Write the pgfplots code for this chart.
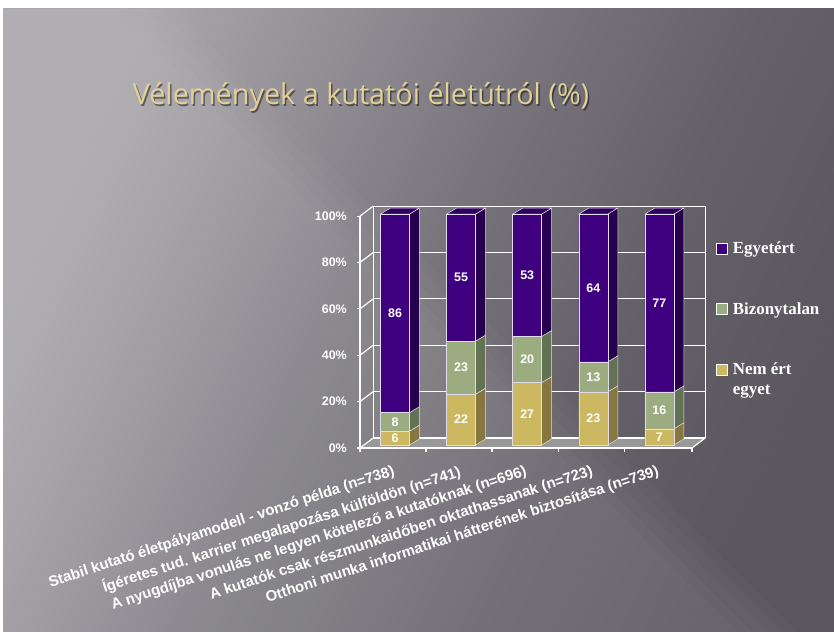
\documentclass[border=0pt]{standalone}
\usepackage{fontspec}
\usepackage{pgfplots}
\usepackage{pgfplotstable}
\pgfplotsset{compat=1.18}
\newfontfamily\arial{Liberation Sans}
\newfontfamily\serifL{Liberation Serif}
\newfontfamily\titlefont{Open Sans}
\definecolor{purpleF}{RGB}{62,0,126}
\definecolor{purpleS}{RGB}{38,0,78}
\definecolor{purpleT}{RGB}{48,0,96}
\definecolor{greenF}{RGB}{155,173,128}
\definecolor{greenS}{RGB}{100,114,84}
\definecolor{goldF}{RGB}{205,184,98}
\definecolor{goldS}{RGB}{134,119,62}
\definecolor{edgec}{RGB}{225,220,235}
\definecolor{floorc}{RGB}{152,152,152}
\definecolor{titlegold}{RGB}{226,208,150}
\definecolor{bg0}{RGB}{170,167,173}
\definecolor{bg1}{RGB}{146,143,149}
\definecolor{bg2}{RGB}{118,116,122}
\definecolor{bg3}{RGB}{100,98,104}
\definecolor{bg4}{RGB}{90,88,94}
\pgfdeclarehorizontalshading{bgshade}{100bp}{color(0bp)=(bg0); color(25bp)=(bg0); color(37bp)=(bg1); color(50bp)=(bg2); color(62bp)=(bg3); color(75bp)=(bg4); color(100bp)=(bg4)}
\pgfplotstableread{
x nem biz egy
0 6 8 86
1 22 23 55
2 27 20 53
3 23 13 64
4 7 16 77
}\data
\newcommand\xlab{\arial\bfseries\fontsize{15}{16}\selectfont}
\newcommand\ylab{\arial\bfseries\fontsize{12.5}{14}\selectfont}
\newcommand\dlab{\arial\bfseries\fontsize{12.5}{14}\selectfont}
\newcommand\legfont{\serifL\bfseries\fontsize{17}{20}\selectfont}
\pgfplotsset{vlabel/.style={draw=none, forget plot, nodes near coords, point meta=explicit,
  /pgf/number format/assume math mode=true,
  nodes near coords align=center,
  every node near coord/.append style={font=\dlab, text=white, anchor=center}}}
\begin{document}
\begin{tikzpicture}[x=1bp,y=1bp]
\useasboundingbox (0,0) rectangle (834,632);
\fill[white] (0,0) rectangle (834,632);
\shade[shading=bgshade, shading angle=-25] (3,0) rectangle (834,623);
\foreach \k in {0,...,4}{
  \fill[white, fill opacity=0.024] (3,623) -- ({174-15*\k},623) -- ({797-15*\k},0) -- (3,0) -- cycle;
}
\node[anchor=base, text=black, opacity=0.45, inner sep=0pt] at (362.5,525.5) {\titlefont\fontsize{28.9}{32}\selectfont Vélemények a kutatói életútról (\%)};
\node[anchor=base, text=titlegold, inner sep=0pt] at (361,527) {\titlefont\fontsize{28.9}{32}\selectfont Vélemények a kutatói életútról (\%)};
\begin{axis}[
  at={(360bp,184bp)}, anchor=south west,
  scale only axis, width=332bp, height=232bp,
  xmin=-0.530, xmax=4.493, ymin=-1.3, ymax=99.15,
  clip=false,
  axis line style={draw=none},
  major tick length=0pt,
  xtick={0,1,2,3,4},
  xticklabels={{Stabil kutató életpályamodell - vonzó példa (n=738)},{Ígéretes tud. karrier megalapozása külföldön (n=741)},{A nyugdíjba vonulás ne legyen kötelező a kutatóknak (n=696)},{A kutatók csak részmunkaidőben oktathassanak (n=723)},{Otthoni munka informatikai hátterének biztosítása (n=739)}},
  xticklabel style={rotate=18, anchor=east, xshift=-8bp, yshift=-22bp, inner sep=0pt, font=\xlab, text=white},
  ytick={-1.3,18.78,38.86,58.94,79.02,99.1},
  yticklabels={0\%,20\%,40\%,60\%,80\%,100\%},
  yticklabel style={anchor=east, xshift=-13bp, inner sep=0pt, font=\ylab, text=white},
  legend style={at={(axis description cs:1.0723,0.888)}, anchor=north west,
    draw=none, fill=none, inner sep=0pt, outer sep=0pt,
    font=\legfont, text=white, row sep=44.5bp, column sep=5bp,
    cells={anchor=base west},
    nodes={inner sep=0pt, text height=12bp, text depth=4bp}},
]
% floor
\fill[floorc] (-0.530,-1.3) -- (4.493,-1.3) -- (4.693,3.03) -- (-0.330,3.03) -- cycle;
% back wall grid
\pgfplotsinvokeforeach{0,20,...,100}{
  \draw[white, line width=1.2bp] (-0.330,{3.03+#1*1.004}) -- (4.693,{3.03+#1*1.004});
  \draw[white, line width=1.2bp] (-0.530,{-1.3+#1*1.004}) -- (-0.330,{3.03+#1*1.004});
  \draw[white, line width=1.2bp] (-0.575,{-1.3+#1*1.004}) -- (-0.530,{-1.3+#1*1.004});
}
\draw[white, line width=1.2bp] (-0.330,3.03) -- (-0.330,103.43);
\draw[white, line width=1.2bp] (4.693,3.03) -- (4.693,103.43);
\draw[white, line width=1.2bp] (4.493,-1.3) -- (4.693,3.03);
\draw[white, line width=1.2bp] (-0.530,-1.3) -- (-0.530,99.1);
\draw[white, line width=1.2bp] (-0.530,-1.3) -- (4.493,-1.3);
\pgfplotsinvokeforeach{-0.530,0.469,1.467,2.470,3.468,4.493}{
  \draw[white, line width=1.2bp] (#1,-1.3) -- (#1,-3.0);
}
% bar side and top faces
\pgfplotsforeachungrouped \i in {0,...,4}{%
  \pgfplotstablegetelem{\i}{nem}\of\data \let\vn\pgfplotsretval
  \pgfplotstablegetelem{\i}{biz}\of\data \let\vb\pgfplotsretval
  \pgfplotstablegetelem{\i}{egy}\of\data \let\ve\pgfplotsretval
  \pgfmathsetmacro\xl{\i-0.219}
  \pgfmathsetmacro\xr{\i+0.219}
  \pgfmathsetmacro\xrd{\i+0.219+0.151}
  \pgfmathsetmacro\xld{\i-0.219+0.151}
  \pgfmathsetmacro\ya{\vn}
  \pgfmathsetmacro\yb{\vn+\vb}
  \pgfmathsetmacro\yc{\vn+\vb+\ve}
  \pgfmathsetmacro\yad{\ya+2.6}
  \pgfmathsetmacro\ybd{\yb+2.6}
  \pgfmathsetmacro\ycd{\yc+2.6}
  \edef\tmp{%
    \noexpand\addplot[fill=goldS, draw=edgec, line width=0.5bp, forget plot] coordinates {(\xr,0) (\xrd,2.6) (\xrd,\yad) (\xr,\ya)} -- cycle;
    \noexpand\addplot[fill=greenS, draw=edgec, line width=0.5bp, forget plot] coordinates {(\xr,\ya) (\xrd,\yad) (\xrd,\ybd) (\xr,\yb)} -- cycle;
    \noexpand\addplot[fill=purpleS, draw=edgec, line width=0.5bp, forget plot] coordinates {(\xr,\yb) (\xrd,\ybd) (\xrd,\ycd) (\xr,\yc)} -- cycle;
    \noexpand\addplot[fill=purpleT, draw=edgec, line width=0.5bp, forget plot] coordinates {(\xl,\yc) (\xr,\yc) (\xrd,\ycd) (\xld,\ycd)} -- cycle;
  }\tmp
}
% front faces
\addplot[ybar, bar width=29bp, bar shift=0pt, fill=purpleF, draw=edgec, line width=0.6bp, forget plot] table[x=x, y expr=\thisrow{nem}+\thisrow{biz}+\thisrow{egy}]{\data};
\addplot[ybar, bar width=29bp, bar shift=0pt, fill=greenF, draw=edgec, line width=0.6bp, forget plot] table[x=x, y expr=\thisrow{nem}+\thisrow{biz}]{\data};
\addplot[ybar, bar width=29bp, bar shift=0pt, fill=goldF, draw=edgec, line width=0.6bp, forget plot] table[x=x, y=nem]{\data};
% value labels
\addplot[vlabel] table[x=x, y expr=\thisrow{nem}/2, meta=nem]{\data};
\addplot[vlabel] table[x=x, y expr=\thisrow{nem}+\thisrow{biz}/2, meta=biz]{\data};
\addplot[vlabel] table[x=x, y expr=\thisrow{nem}+\thisrow{biz}+\thisrow{egy}/2, meta=egy]{\data};
% legend
\addlegendimage{legend image code/.code={\draw[white, line width=0.8bp, fill=purpleF] (0bp,0bp) rectangle (11bp,11bp);}}
\addlegendentry{Egyetért}
\addlegendimage{legend image code/.code={\draw[white, line width=0.8bp, fill=greenF] (0bp,0bp) rectangle (11bp,11bp);}}
\addlegendentry{Bizonytalan}
\addlegendimage{legend image code/.code={\draw[white, line width=0.8bp, fill=goldF] (0bp,0bp) rectangle (11bp,11bp);}}
\addlegendentry{\vtop{\hbox{Nem ért}\hbox{egyet}}}
\end{axis}
\end{tikzpicture}
\end{document}
